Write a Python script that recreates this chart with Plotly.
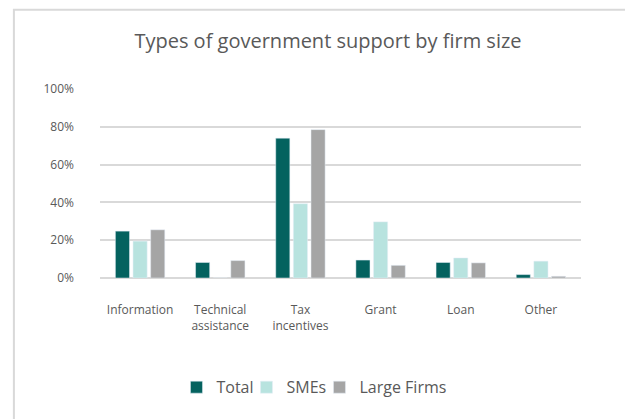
import plotly.graph_objects as go

categories = ["Information", "Technical<br>assistance", "Tax<br>incentives", "Grant", "Loan", "Other"]
total = [0.248, 0.082, 0.74, 0.095, 0.082, 0.018]
smes = [0.195, 0.0, 0.393, 0.297, 0.106, 0.089]
large = [0.255, 0.092, 0.785, 0.067, 0.08, 0.009]
y_ticks = [0, 0.2, 0.4, 0.6, 0.8, 1.0]
y_labels = ["0%", "20%", "40%", "60%", "80%", "100%"]

FONT = "Open Sans"
GRAY = "#595959"

fig = go.Figure()
fig.add_bar(x=categories, y=total, name="Total", marker_color="#04625F", legend="legend")
fig.add_bar(x=categories, y=smes, name="SMEs", marker_color="#B8E3DF", legend="legend2")
fig.add_bar(x=categories, y=large, name="Large Firms", marker_color="#A5A5A5", legend="legend3")

def leg(x):
    return dict(orientation="h", x=x, xanchor="left", y=-0.578, yanchor="middle",
                font=dict(family=FONT, size=16, color=GRAY), itemwidth=30,
                bgcolor="rgba(0,0,0,0)")

fig.update_layout(
    width=633, height=419,
    margin=dict(l=92, r=60, t=81, b=149),
    paper_bgcolor="white", plot_bgcolor="white",
    barmode="group", bargap=0.34, bargroupgap=0.2,
    title=dict(text="Types of government support by firm size", x=0.5055, xanchor="center",
               y=0.921, yanchor="middle", font=dict(family=FONT, size=20, color=GRAY)),
    font=dict(family=FONT, color=GRAY),
    showlegend=True,
    legend=leg(0.159),
    legend2=leg(0.3045),
    legend3=leg(0.4563),
    xaxis=dict(showgrid=False, showline=False, ticks="", tickfont=dict(size=12, color=GRAY),
               ticklabelstandoff=23),
    yaxis=dict(range=[0, 1.0], tickvals=y_ticks, ticktext=y_labels, showgrid=True,
               gridcolor="#D9D9D9", gridwidth=1.5, zeroline=True, zerolinecolor="#D9D9D9",
               zerolinewidth=1.5, tickfont=dict(size=12, color=GRAY), ticklabelstandoff=25),
    shapes=[dict(type="rect", xref="paper", yref="paper", x0=-0.179, x1=1.102, y0=-0.9, y1=1.419,
                 line=dict(color="#D9D9D9", width=2), layer="below")],
)

fig.write_html("out.html")
